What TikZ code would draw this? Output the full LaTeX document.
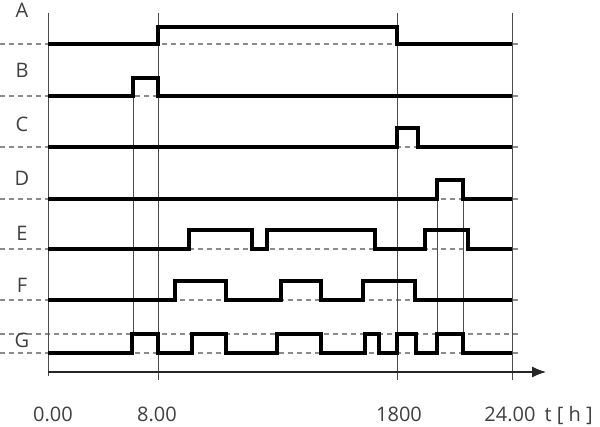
\documentclass[tikz,border=0pt]{standalone}
\usepackage{fontspec}
\setmainfont{Open Sans}
\usetikzlibrary{arrows.meta}

\begin{document}
\begin{tikzpicture}[x=1pt,y=-1pt]
		\tikzset{signal/.style={line width=3.1pt, line join=miter, black}}
		\tikzset{grid/.style={line width=0.9pt, black!70}}
		\tikzset{level/.style={dash pattern=on 5pt off 4pt, line width=1.3pt, black!45}}
		\tikzset{axis/.style={-{Latex[length=14pt,width=11pt]}, line width=1.1pt, black!85}}
		\tikzset{rowname/.style={font=\fontsize{20}{24}\selectfont, text=black!75, inner sep=0pt}}
		\tikzset{timelabel/.style={rowname, anchor=base}}
		\useasboundingbox (0,0) rectangle (600,427);
		%levels
		\foreach \y in {44, 96, 147, 199, 249, 300, 334, 353}
			\draw[level] (0,\y) -- (520,\y);
		%grid
		\draw[grid] (48,13) -- (48,376);
		\draw[grid] (158,13) -- (158,380);
		\draw[grid] (397,13) -- (397,380);
		\draw[grid] (512,13) -- (512,380);
		\draw[grid] (133,78) -- (133,334);
		\draw[grid] (437,180) -- (437,334);
		\draw[grid] (463,180) -- (463,334);
		%axis
		\coordinate (o) at (48,372);
		\coordinate (tend) at (546,372);
		\draw[axis] (o) -- (tend);
		%signals
		\draw[signal] (48,44) -| (158,27) -| (397,44) -- (512,44);
		\draw[signal] (48,96) -| (133,78) -| (158,96) -- (512,96);
		\draw[signal] (48,147) -| (397,128) -| (418,147) -- (512,147);
		\draw[signal] (48,199) -| (437,180) -| (463,199) -- (512,199);
		\draw[signal] (48,249) -| (189,230) -| (252,249) -| (267,230) -| (375,249)
			-| (425,230) -| (468,249) -- (512,249);
		\draw[signal] (48,300) -| (175,281) -| (226,300) -| (281,281) -| (321,300)
			-| (363,281) -| (415,300) -- (512,300);
		\draw[signal] (48,353) -| (132,334) -| (158,353) -| (192,334) -| (226,353)
			-| (277,334) -| (321,353) -| (365,334) -| (379,353) -| (397,334)
			-| (416,353) -| (437,334) -| (463,353) -- (512,353);
		%names
		\node[rowname] (lA) at (22,10) {A};
		\node[rowname] (lB) at (22,70) {B};
		\node[rowname] (lC) at (22,124) {C};
		\node[rowname] (lD) at (22,178) {D};
		\node[rowname] (lE) at (22,233) {E};
		\node[rowname] (lF) at (22,285) {F};
		\node[rowname] (lG) at (22,340) {G};
		%times
		\node[timelabel] (t0) at (53,422) {0.00};
		\node[timelabel] (t8) at (157,422) {8.00};
		\node[timelabel] (t18) at (399,422) {1800};
		\node[timelabel] (t24) at (510,422) {24.00};
		\node[timelabel, anchor=base east] (tunit) at (593,422) {t [ h ]};
\end{tikzpicture}
\end{document}
